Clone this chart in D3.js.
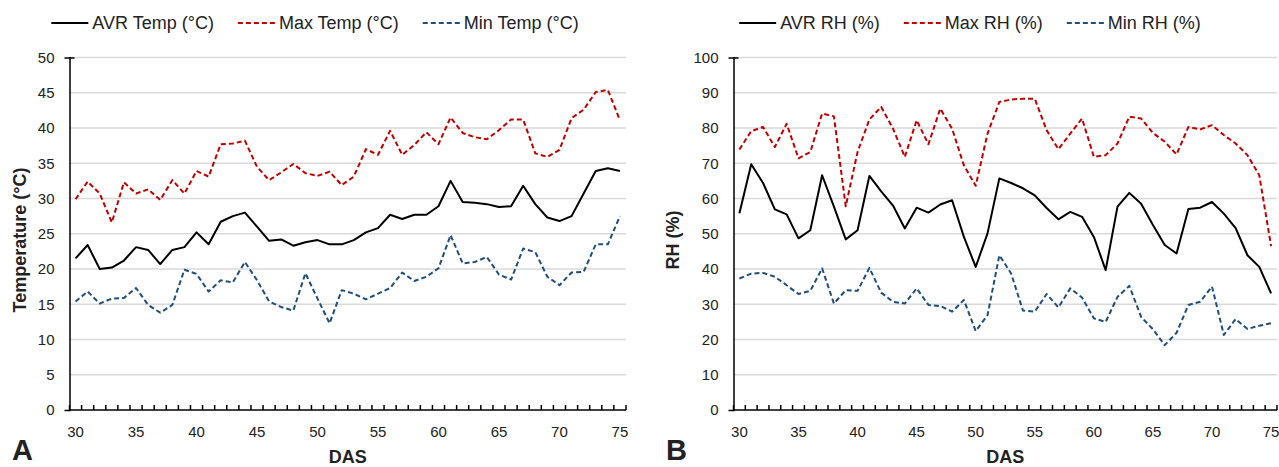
<!doctype html>
<html>
  <head>
    <meta charset="utf8">
    <script src="https://d3js.org/d3.v7.min.js"></script>
    <style type="text/css">
      body { margin: 0; background: #fff; }
      svg { display: block; }
      text { font-family: 'Liberation Sans', Arial, sans-serif; fill: #222; }
    </style>
  </head>
  <body>
    <script type="text/javascript">
      const w = 1279;
      const h = 467;

      // days after sowing
      const das = d3.range(30, 76);
      const xTicks = [30, 35, 40, 45, 50, 55, 60, 65, 70, 75];

      // panel A - temperature
      const avrTemp = [21.5, 23.4, 20.0, 20.2, 21.2, 23.1, 22.7, 20.7, 22.7, 23.1,
        25.2, 23.5, 26.7, 27.5, 28.0, 26.0, 24.0, 24.2, 23.3, 23.8,
        24.1, 23.5, 23.5, 24.1, 25.2, 25.8, 27.7, 27.1, 27.7, 27.7,
        28.9, 32.5, 29.5, 29.4, 29.2, 28.8, 28.9, 31.8, 29.2, 27.3,
        26.8, 27.5, 30.7, 33.9, 34.3, 33.9];
      const maxTemp = [29.9, 32.4, 30.7, 26.6, 32.3, 30.7, 31.3, 29.8, 32.6, 30.7,
        33.9, 33.1, 37.7, 37.8, 38.2, 34.5, 32.6, 33.7, 34.9, 33.6,
        33.2, 33.8, 31.9, 33.1, 37.0, 36.2, 39.6, 36.2, 37.6, 39.4,
        37.7, 41.5, 39.3, 38.7, 38.4, 39.7, 41.2, 41.2, 36.4, 35.9,
        36.9, 41.4, 42.6, 45.1, 45.4, 41.1];
      const minTemp = [15.4, 16.8, 15.1, 15.8, 15.9, 17.3, 14.9, 13.8, 14.9, 19.9,
        19.3, 16.8, 18.4, 18.1, 21.0, 18.4, 15.4, 14.6, 14.1, 19.4,
        15.8, 12.3, 17.0, 16.5, 15.7, 16.5, 17.3, 19.5, 18.3, 18.9,
        20.1, 24.8, 20.8, 21.0, 21.7, 19.2, 18.5, 22.9, 22.4, 18.9,
        17.7, 19.5, 19.6, 23.5, 23.5, 27.5];
      const tempTicks = [0, 5, 10, 15, 20, 25, 30, 35, 40, 45, 50];

      // panel B - relative humidity
      const avrRH = [55.8, 69.7, 64.4, 56.9, 55.5, 48.7, 51.0, 66.6, 57.7, 48.4,
        51.0, 66.4, 62.0, 58.0, 51.5, 57.4, 56.0, 58.3, 59.5, 49.1,
        40.6, 50.1, 65.7, 64.4, 62.9, 60.9, 57.3, 54.1, 56.2, 54.8,
        49.1, 39.7, 57.7, 61.6, 58.5, 52.5, 46.8, 44.4, 57.0, 57.4,
        59.0, 55.7, 51.6, 43.9, 40.6, 33.1];
      const maxRH = [73.9, 79.1, 80.3, 74.6, 81.2, 71.4, 73.2, 84.1, 83.3, 57.8,
        73.2, 82.4, 86.0, 79.8, 71.8, 82.2, 75.4, 85.5, 79.8, 69.4,
        63.6, 78.4, 87.4, 88.1, 88.3, 88.3, 79.4, 74.0, 78.4, 82.7,
        71.8, 72.3, 75.6, 83.2, 82.7, 78.6, 76.1, 72.5, 80.3, 79.6,
        80.8, 78.0, 75.6, 72.3, 66.6, 46.5];
      const minRH = [37.3, 38.7, 38.9, 37.8, 35.4, 32.9, 33.8, 40.2, 30.2, 34.0,
        33.8, 40.3, 33.3, 30.7, 30.2, 34.5, 29.8, 29.5, 27.9, 31.2,
        22.4, 26.9, 43.9, 38.7, 28.2, 27.9, 32.9, 29.1, 34.5, 31.9,
        26.0, 25.0, 32.1, 35.2, 26.4, 22.9, 18.4, 21.9, 29.8, 30.7,
        35.0, 21.3, 25.8, 23.0, 23.9, 24.6];
      const rhTicks = [0, 10, 20, 30, 40, 50, 60, 70, 80, 90, 100];

      const svg = d3.select('body')
        .append('svg')
        .attr('width', w)
        .attr('height', h);

      const styles = {
        avr: { color: '#000000', dash: null },
        max: { color: '#c00000', dash: '5,3' },
        min: { color: '#1f4e79', dash: '5,3' }
      };

      function drawPanel(p) {
        const x = d3.scaleBand()
          .domain(das)
          .range([p.left, p.right]);

        const y = d3.scaleLinear()
          .domain([0, p.yMax])
          .range([410, 57.5]);

        const g = svg.append('g');

        // gridlines
        g.selectAll('line.grid')
          .data(p.yTicks.filter((d) => d > 0))
          .enter()
          .append('line')
          .attr('class', 'grid')
          .attr('x1', p.left)
          .attr('x2', p.right)
          .attr('y1', (d) => y(d))
          .attr('y2', (d) => y(d))
          .attr('stroke', '#d9d9d9')
          .attr('stroke-width', 1.5);

        // y axis
        const yAxis = g.append('g')
          .attr('transform', 'translate(' + p.left + ',0)')
          .call(d3.axisLeft(y).tickValues(p.yTicks).tickSize(5).tickPadding(10));
        yAxis.select('.domain').attr('stroke', '#000').attr('stroke-width', 1.5);
        yAxis.selectAll('.tick line').attr('stroke', '#000').attr('stroke-width', 1.5)
          .attr('x2', (d) => d === p.yMax ? 5 : 0);
        yAxis.selectAll('.tick text').attr('font-size', '15px').attr('fill', '#222')
          .attr('font-family', "'Liberation Sans', Arial, sans-serif");

        // x axis: ticks between categories, pointing inward
        const bounds = das.map((d) => x(d)).concat([p.right]);
        g.selectAll('line.xtick')
          .data(bounds)
          .enter()
          .append('line')
          .attr('x1', (d) => d)
          .attr('x2', (d) => d)
          .attr('y1', 410)
          .attr('y2', 405)
          .attr('stroke', '#000')
          .attr('stroke-width', 1.5);
        g.append('line')
          .attr('x1', p.left)
          .attr('x2', p.right)
          .attr('y1', 410)
          .attr('y2', 410)
          .attr('stroke', '#000')
          .attr('stroke-width', 1.5);
        g.selectAll('text.xlab')
          .data(xTicks)
          .enter()
          .append('text')
          .attr('x', (d) => x(d) + x.bandwidth() / 2)
          .attr('y', 437)
          .attr('text-anchor', 'middle')
          .attr('font-size', '15px')
          .text((d) => d);

        // series
        const line = d3.line()
          .x((d, i) => x(das[i]) + x.bandwidth() / 2)
          .y((d) => y(d));

        p.series.forEach((s) => {
          g.append('path')
            .datum(s.values)
            .attr('d', line)
            .attr('fill', 'none')
            .attr('stroke', styles[s.key].color)
            .attr('stroke-width', 2)
            .attr('stroke-dasharray', styles[s.key].dash)
            .attr('stroke-linejoin', 'round');
        });

        // axis titles
        g.append('text')
          .attr('transform', 'translate(' + p.yTitleX + ',240) rotate(-90)')
          .attr('text-anchor', 'middle')
          .attr('dominant-baseline', 'central')
          .attr('font-size', '18px')
          .attr('font-weight', 'bold')
          .text(p.yTitle);

        g.append('text')
          .attr('x', (p.left + p.right) / 2)
          .attr('y', 463)
          .attr('text-anchor', 'middle')
          .attr('font-size', '18px')
          .attr('font-weight', 'bold')
          .text('DAS');

        g.append('text')
          .attr('x', p.letterX)
          .attr('y', 460)
          .attr('font-size', '29px')
          .attr('font-weight', 'bold')
          .text(p.letter);

        // legend
        const leg = g.append('g');
        let cx = 0;
        p.series.forEach((s, i) => {
          const item = leg.append('g').attr('transform', 'translate(' + cx + ',0)');
          item.append('line')
            .attr('x1', 0)
            .attr('x2', 37)
            .attr('y1', 0)
            .attr('y2', 0)
            .attr('stroke', styles[s.key].color)
            .attr('stroke-width', 2)
            .attr('stroke-dasharray', styles[s.key].dash);
          const t = item.append('text')
            .attr('x', 41)
            .attr('y', 0)
            .attr('dominant-baseline', 'central')
            .attr('font-size', '18px')
            .text(s.label);
          cx += 41 + t.node().getComputedTextLength() + 24;
        });
        const legW = cx - 24;
        leg.attr('transform', 'translate(' + (p.legendCenter - legW / 2) + ',23)');
      }

      drawPanel({
        left: 69.5, right: 626, yMax: 50, yTicks: tempTicks,
        yTitle: 'Temperature (°C)', yTitleX: 20, letter: 'A', letterX: 12,
        legendCenter: 315,
        series: [
          { key: 'avr', label: 'AVR Temp (°C)', values: avrTemp },
          { key: 'max', label: 'Max Temp (°C)', values: maxTemp },
          { key: 'min', label: 'Min Temp (°C)', values: minTemp }
        ]
      });

      drawPanel({
        left: 733.5, right: 1277, yMax: 100, yTicks: rhTicks,
        yTitle: 'RH (%)', yTitleX: 673, letter: 'B', letterX: 666,
        legendCenter: 970,
        series: [
          { key: 'avr', label: 'AVR RH (%)', values: avrRH },
          { key: 'max', label: 'Max RH (%)', values: maxRH },
          { key: 'min', label: 'Min RH (%)', values: minRH }
        ]
      });
    </script>
  </body>
</html>
